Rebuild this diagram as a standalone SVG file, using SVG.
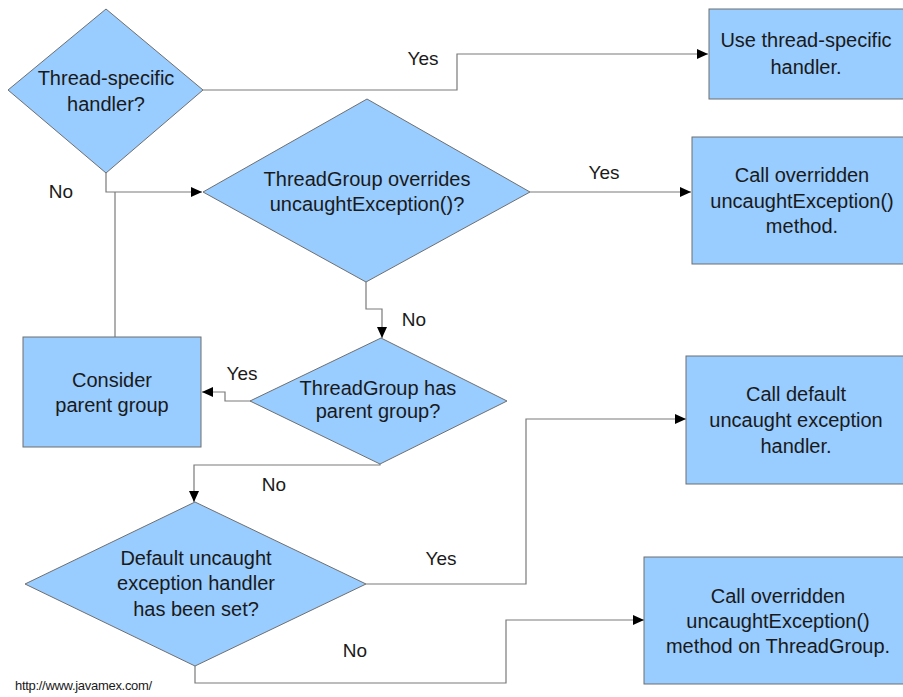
<svg xmlns="http://www.w3.org/2000/svg" width="903" height="697" viewBox="0 0 903 697">
<defs>
<style>
.node{fill:#99ccff;stroke:#6f6f6f;stroke-width:1}
.t{font-family:"Liberation Sans",Arial,sans-serif;font-size:20px;fill:#1a1a1a;text-anchor:middle}
.lbl{font-family:"Liberation Sans",Arial,sans-serif;font-size:19px;fill:#1a1a1a;text-anchor:middle}
.url{font-family:"Liberation Sans",Arial,sans-serif;font-size:13px;fill:#1a1a1a;letter-spacing:-0.3px}
.c{fill:none;stroke:#7a7a7a;stroke-width:1.2}
</style>
<marker id="arr" markerUnits="userSpaceOnUse" markerWidth="12" markerHeight="10" refX="11" refY="5" orient="auto">
<path d="M0,0 L11,5 L0,10 Z" fill="#000"/>
</marker>
</defs>
<rect width="903" height="697" fill="#ffffff"/>
<g id="connectors">
<path class="c" d="M203,90 H457 V54 H708" marker-end="url(#arr)"/>
<path class="c" d="M106,173 V192 H202" marker-end="url(#arr)"/>
<path class="c" d="M115,337 V192"/>
<path class="c" d="M530,192 H691" marker-end="url(#arr)"/>
<path class="c" d="M366,282 V309 H382 V338" marker-end="url(#arr)"/>
<path class="c" d="M251,401 H225 V392 H202" marker-end="url(#arr)"/>
<path class="c" d="M380,464 V465 H194 V502" marker-end="url(#arr)"/>
<path class="c" d="M366,584 H526 V419 H686" marker-end="url(#arr)"/>
<path class="c" d="M195,666 V683 H506 V620 H644" marker-end="url(#arr)"/>
<text class="lbl" x="423" y="65">Yes</text>
<text class="lbl" x="61" y="198">No</text>
<text class="lbl" x="604" y="179">Yes</text>
<text class="lbl" x="414" y="326">No</text>
<text class="lbl" x="242" y="380">Yes</text>
<text class="lbl" x="274" y="491">No</text>
<text class="lbl" x="441" y="565">Yes</text>
<text class="lbl" x="355" y="657">No</text>
</g>
<g id="d1">
<polygon class="node" points="106,9 203,90 106,173 8,90"/>
<text class="t" x="106" y="85">Thread-specific</text>
<text class="t" x="106" y="111">handler?</text>
</g>
<g id="d2">
<polygon class="node" points="367,99 530,192 366,282 203,192"/>
<text class="t" x="367" y="186">ThreadGroup overrides</text>
<text class="t" x="367" y="211">uncaughtException()?</text>
</g>
<g id="d3">
<polygon class="node" points="381,338 507,401 380,464 250,401"/>
<text class="t" x="378" y="395">ThreadGroup has</text>
<text class="t" x="378" y="418">parent group?</text>
</g>
<g id="d4">
<polygon class="node" points="195,502 366,584 195,666 25,584"/>
<text class="t" x="196" y="565">Default uncaught</text>
<text class="t" x="196" y="590">exception handler</text>
<text class="t" x="196" y="616">has been set?</text>
</g>
<g id="consider">
<rect class="node" x="23" y="337" width="178" height="110"/>
<text class="t" x="112" y="387">Consider</text>
<text class="t" x="112" y="412">parent group</text>
</g>
<g id="box1">
<rect class="node" x="709" y="9" width="210" height="90"/>
<text class="t" x="806" y="47">Use thread-specific</text>
<text class="t" x="806" y="74">handler.</text>
</g>
<g id="box2">
<rect class="node" x="692" y="137" width="230" height="127"/>
<text class="t" x="802" y="182">Call overridden</text>
<text class="t" x="802" y="208">uncaughtException()</text>
<text class="t" x="802" y="233">method.</text>
</g>
<g id="box3">
<rect class="node" x="686" y="356" width="230" height="128"/>
<text class="t" x="796" y="401">Call default</text>
<text class="t" x="796" y="427">uncaught exception</text>
<text class="t" x="796" y="453">handler.</text>
</g>
<g id="box4">
<rect class="node" x="644" y="557" width="280" height="127"/>
<text class="t" x="778" y="603">Call overridden</text>
<text class="t" x="778" y="628">uncaughtException()</text>
<text class="t" x="778" y="653">method on ThreadGroup.</text>
</g>
<text class="url" x="15" y="690">http://www.javamex.com/</text>
</svg>
